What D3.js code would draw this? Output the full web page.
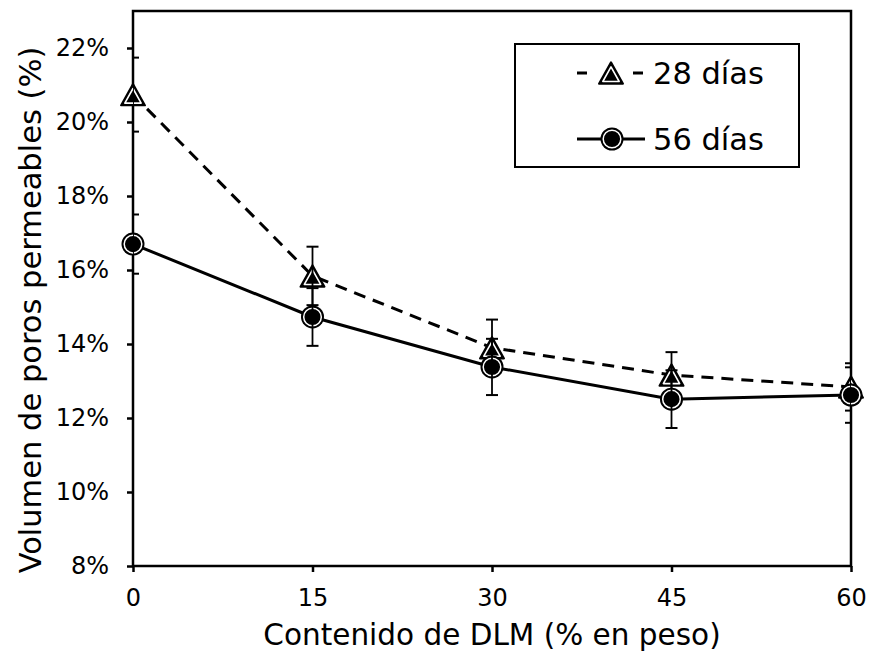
<!DOCTYPE html>
<html>
<head>
<meta charset="utf-8">
<script src="https://cdn.jsdelivr.net/npm/d3@7"></script>
<style>
  body { margin: 0; background: #fff; }
  text { font-family: "DejaVu Sans", sans-serif; fill: #000; }
</style>
</head>
<body>
<div id="chart"></div>
<script>
const width = 870;
const height = 654;
const plot = { left: 133, right: 851, top: 11, bottom: 566 };

// data
const dlm = [0, 15, 30, 45, 60];
const dias28 = [20.74, 15.84, 13.9, 13.16, 12.84];
const dias56 = [16.7, 14.73, 13.38, 12.51, 12.62];
const err28 = [1.0, 0.79, 0.76, 0.62, 0.64];
const err56 = [0.8, 0.78, 0.76, 0.78, 0.75];
const xTicks = [0, 15, 30, 45, 60];
const yTicks = [8, 10, 12, 14, 16, 18, 20, 22];
const seriesNames = ['28 días', '56 días'];

const svg = d3.select('#chart')
  .append('svg')
  .attr('width', width)
  .attr('height', height);

const x = d3.scaleLinear()
  .domain([0, 60])
  .range([plot.left, plot.right]);

const y = d3.scaleLinear()
  .domain([8, 23])
  .range([plot.bottom, plot.top]);

svg.append('defs')
  .append('clipPath')
  .attr('id', 'plot-clip')
  .append('rect')
  .attr('x', plot.left)
  .attr('y', plot.top)
  .attr('width', plot.right - plot.left)
  .attr('height', plot.bottom - plot.top);

// axes
const yAxisG = svg.append('g')
  .attr('transform', `translate(${plot.left},0)`)
  .call(d3.axisLeft(y).tickValues(yTicks).tickFormat(d => d + '%').tickSize(6).tickSizeOuter(0).tickPadding(18));

const xAxisG = svg.append('g')
  .attr('transform', `translate(0,${plot.bottom})`)
  .call(d3.axisBottom(x).tickValues(xTicks).tickSize(6).tickSizeOuter(0).tickPadding(17));

[yAxisG, xAxisG].forEach(g => {
  g.select('.domain').remove();
  g.selectAll('line').attr('stroke', '#000').attr('stroke-width', 2.5);
  g.selectAll('text').style('font-size', '24px').attr('fill', '#000');
});

// plot border
svg.append('rect')
  .attr('x', plot.left)
  .attr('y', plot.top)
  .attr('width', plot.right - plot.left)
  .attr('height', plot.bottom - plot.top)
  .attr('fill', 'none')
  .attr('stroke', '#000')
  .attr('stroke-width', 2.5);

// axis titles
svg.append('text')
  .text('Contenido de DLM (% en peso)')
  .attr('x', (plot.left + plot.right) / 2)
  .attr('y', 645)
  .attr('text-anchor', 'middle')
  .style('font-size', '29.5px');

svg.append('text')
  .text('Volumen de poros permeables (%)')
  .attr('transform', 'rotate(-90)')
  .attr('x', -310)
  .attr('y', 41)
  .attr('text-anchor', 'middle')
  .style('font-size', '30.5px');

// markers
const triPoints = [[0, -14.5], [12, 7], [-12, 7]]; // relative to incenter
const triPath = k => 'M' + triPoints.map(p => [p[0] * k, p[1] * k].join(',')).join('L') + 'Z';

function drawTriangle(g, cx, cy) {
  const m = g.append('g').attr('transform', `translate(${cx},${cy + 3.75})`);
  m.append('path')
    .attr('d', triPath(1))
    .attr('fill', '#000')
    .attr('stroke', '#000')
    .attr('stroke-width', 2)
    .attr('stroke-linejoin', 'round');
  m.append('path')
    .attr('d', triPath(0.68))
    .attr('fill', 'none')
    .attr('stroke', '#fff')
    .attr('stroke-width', 1.6)
    .attr('stroke-linejoin', 'round');
}

function drawCircle(g, cx, cy) {
  g.append('circle')
    .attr('cx', cx).attr('cy', cy).attr('r', 11.5)
    .attr('fill', '#000');
  g.append('circle')
    .attr('cx', cx).attr('cy', cy).attr('r', 8.8)
    .attr('fill', 'none')
    .attr('stroke', '#fff')
    .attr('stroke-width', 1.5);
}

const series = [
  { values: dias28, errors: err28, dash: '12,8', marker: drawTriangle },
  { values: dias56, errors: err56, dash: null, marker: drawCircle }
];

const line = d3.line()
  .x((d, i) => x(dlm[i]))
  .y(d => y(d));

series.forEach(s => {
  const g = svg.append('g');

  g.append('path')
    .datum(s.values)
    .attr('d', line)
    .attr('fill', 'none')
    .attr('stroke', '#000')
    .attr('stroke-width', 3)
    .attr('stroke-dasharray', s.dash);

  s.values.forEach((v, i) => s.marker(g, x(dlm[i]), y(v)));

  // error bars, clipped to plot area
  const eb = g.append('g').attr('clip-path', 'url(#plot-clip)');
  s.values.forEach((v, i) => {
    const cx = x(dlm[i]);
    const top = y(v + s.errors[i]);
    const bot = y(v - s.errors[i]);
    eb.append('line')
      .attr('x1', cx).attr('x2', cx)
      .attr('y1', top).attr('y2', bot)
      .attr('stroke', '#000').attr('stroke-width', 1.8);
    [top, bot].forEach(yy => {
      eb.append('line')
        .attr('x1', cx - 6).attr('x2', cx + 6)
        .attr('y1', yy).attr('y2', yy)
        .attr('stroke', '#000').attr('stroke-width', 2);
    });
  });
});

// LEGEND
const legend = svg.append('g');

legend.append('rect')
  .attr('x', 515)
  .attr('y', 44)
  .attr('width', 284)
  .attr('height', 123)
  .attr('fill', '#fff')
  .attr('stroke', '#000')
  .attr('stroke-width', 2);

const legendRows = [73, 139];

legend.append('line')
  .attr('x1', 577).attr('x2', 643)
  .attr('y1', legendRows[0]).attr('y2', legendRows[0])
  .attr('stroke', '#000').attr('stroke-width', 3)
  .attr('stroke-dasharray', '10,46,10');
drawTriangle(legend, 611, legendRows[0]);

legend.append('line')
  .attr('x1', 577).attr('x2', 645)
  .attr('y1', legendRows[1]).attr('y2', legendRows[1])
  .attr('stroke', '#000').attr('stroke-width', 3);
drawCircle(legend, 612, legendRows[1]);

legend.selectAll('text.label')
  .data(seriesNames)
  .join('text')
  .attr('class', 'label')
  .text(d => d)
  .attr('x', 653)
  .attr('y', (d, i) => legendRows[i] + 11)
  .style('font-size', '30.5px');
</script>
</body>
</html>
